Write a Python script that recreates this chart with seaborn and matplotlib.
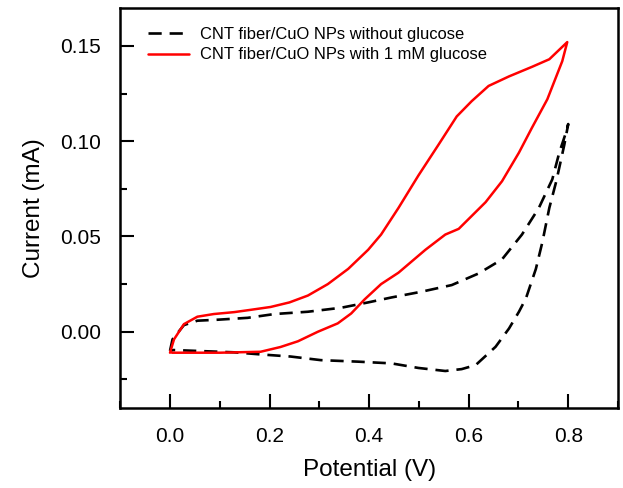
import numpy as np
import pandas as pd
import matplotlib.pyplot as plt
import seaborn as sns
from matplotlib.ticker import MultipleLocator

# CV loop without glucose (forward then reverse scan)
pot_blank = [0.0, 0.005, 0.028, 0.055, 0.095, 0.156, 0.21, 0.277, 0.344, 0.398, 0.445,
             0.505, 0.566, 0.62, 0.667, 0.707, 0.741, 0.768, 0.782, 0.796, 0.80,
             0.792, 0.776, 0.762, 0.748, 0.735, 0.715, 0.701, 0.681, 0.654, 0.614,
             0.586, 0.553, 0.499, 0.445, 0.378, 0.303, 0.242, 0.182, 0.129, 0.007, 0.0]
cur_blank = [-0.010, -0.004, 0.0035, 0.0058, 0.0063, 0.0073, 0.0093, 0.0105, 0.0126, 0.0154, 0.018,
             0.021, 0.0245, 0.0306, 0.038, 0.051, 0.065, 0.080, 0.094, 0.105, 0.109,
             0.098, 0.079, 0.065, 0.047, 0.033, 0.0175, 0.0105, 0.0017, -0.0079, -0.0175,
             -0.0196, -0.0206, -0.019, -0.0166, -0.0157, -0.0149, -0.013, -0.0119, -0.0108, -0.0096, -0.010]

# CV loop with 1 mM glucose
pot_gluc = [0.0, 0.008, 0.028, 0.055, 0.088, 0.129, 0.162, 0.202, 0.24, 0.277, 0.317,
            0.358, 0.398, 0.424, 0.459, 0.499, 0.539, 0.576, 0.606, 0.640, 0.681,
            0.727, 0.762, 0.782, 0.798,
            0.788, 0.758, 0.727, 0.701, 0.667, 0.634, 0.580, 0.553, 0.513, 0.459,
            0.424, 0.391, 0.364, 0.337, 0.297, 0.257, 0.222, 0.182, 0.10, 0.004]
cur_gluc = [-0.011, -0.004, 0.004, 0.0079, 0.0093, 0.0103, 0.0115, 0.013, 0.0154, 0.019, 0.025,
            0.033, 0.043, 0.051, 0.065, 0.082, 0.098, 0.113, 0.121, 0.129, 0.134,
            0.139, 0.143, 0.148, 0.152,
            0.142, 0.122, 0.107, 0.094, 0.079, 0.068, 0.054, 0.051, 0.043, 0.031,
            0.025, 0.017, 0.0096, 0.0044, 0.0, -0.005, -0.008, -0.0105, -0.011, -0.011]

labels = ['CNT fiber/CuO NPs without glucose', 'CNT fiber/CuO NPs with 1 mM glucose']

blank = pd.DataFrame({'Potential': pot_blank, 'Current': cur_blank})
gluc = pd.DataFrame({'Potential': pot_gluc, 'Current': cur_gluc})

sns.set_style("ticks", {'axes.edgecolor': 'black', 'text.color': 'black',
                        'axes.labelcolor': 'black', 'xtick.color': 'black',
                        'ytick.color': 'black',
                        'xtick.direction': 'in', 'ytick.direction': 'in'})
plt.rcParams['font.family'] = ['Liberation Sans', 'DejaVu Sans']

fig = plt.figure(figsize=(6.23, 4.88), dpi=100)
ax = fig.add_axes([0.193, 0.164, 0.799, 0.82])

sns.lineplot(data=blank, x='Potential', y='Current', sort=False, estimator=None,
             color='black', linewidth=1.9, linestyle=(0, (5, 3)), label=labels[0], ax=ax)
sns.lineplot(data=gluc, x='Potential', y='Current', sort=False, estimator=None,
             color='#ff0000', linewidth=1.8, label=labels[1], ax=ax)

ax.set_xlim(-0.1, 0.9)
ax.set_ylim(-0.04, 0.17)
ax.xaxis.set_minor_locator(MultipleLocator(0.1))
ax.yaxis.set_minor_locator(MultipleLocator(0.025))
ax.set_xticks([0.0, 0.2, 0.4, 0.6, 0.8])
ax.set_xticklabels(['0.0', '0.2', '0.4', '0.6', '0.8'])
ax.set_yticks([0.0, 0.05, 0.10, 0.15])
ax.set_yticklabels(['0.00', '0.05', '0.10', '0.15'])
ax.tick_params(which='major', direction='in', length=10, width=1.5, labelsize=15, pad=14)
ax.tick_params(which='minor', direction='in', length=5, width=1.5)
for s in ax.spines.values():
    s.set_linewidth(1.8)

ax.set_xlabel('Potential (V)', fontsize=17.5, labelpad=9)
ax.set_ylabel('Current (mA)', fontsize=17.5, labelpad=11)

ax.legend(loc='upper left', frameon=False, fontsize=11.9, handlelength=2.5,
          handletextpad=0.65, borderaxespad=0, borderpad=0, labelspacing=0.35,
          bbox_to_anchor=(0.056, 0.953))

fig.savefig('out.png', dpi=100)
